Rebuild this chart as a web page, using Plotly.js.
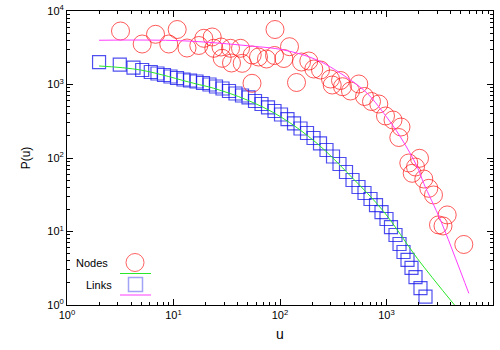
<!DOCTYPE html>
<html>
<head>
<meta charset="utf-8">
<script src="https://cdn.plot.ly/plotly-3.0.1.min.js"></script>
<style>html,body{margin:0;padding:0;background:#fff;}#chart{width:500px;height:350px;}</style>
</head>
<body>
<div id="chart"></div>
<script>
// ---- Data ----
const linksU = [2, 3.13, 4.21, 5.08, 6.12, 7.07, 8.14, 9.37, 10.79, 12.41, 14.29, 16.44, 18.92, 21.78, 25.06, 28.85, 33.2, 38.21, 43.98, 50.61, 58.26, 67.05, 77.16, 88.8, 102.2, 117.6, 135.4, 155.8, 179.3, 206.4, 237.5, 273.3, 314.6, 362, 416.7, 479.6, 545.9, 621.5, 707.6, 796.9, 897.8, 1000, 1102, 1215, 1325, 1444, 1575, 1717, 1872, 2085, 2324];
const linksP = [2020, 1859, 1693, 1575, 1480, 1411, 1347, 1285, 1226, 1169, 1134, 1098, 1048, 1000, 939, 882, 816, 754, 708, 666, 596, 543, 487, 436, 391, 339, 295, 252, 219, 187, 158, 128.5, 104.8, 82.9, 64.5, 50.2, 40.3, 33.4, 27.7, 22.9, 18.4, 14.8, 11.5, 8.96, 6.76, 5.26, 4.1, 3.19, 2.4, 1.7, 1.3];

const nodesU = [3.18, 5.08, 6.78, 9.03, 10.83, 13.39, 17.28, 19.26, 23.09, 23.9, 27.93, 28.66, 34.29, 35.04, 42.57, 44.17, 54.83, 54.59, 62.84, 74.68, 89.77, 88.8, 108.6, 122.8, 142.9, 159.2, 186.4, 207.7, 240.1, 298, 309.1, 369.9, 386.3, 459.2, 549.6, 621.5, 723.1, 846.6, 978.6, 1151, 1368, 1305, 1620, 1743, 1872, 2041, 2240, 2496, 2762, 3077, 3393, 3715, 5319];
const nodesP = [5344, 3556, 4820, 3556, 5602, 3138, 3394, 4252, 4430, 3109, 3237, 2273, 3109, 1961, 3109, 1943, 2520, 1038, 2366, 2223, 5602, 2481, 2258, 3268, 1065, 2023, 2087, 1625, 1575, 1188, 984, 1134, 933, 816, 1016, 687, 587, 543, 373, 329, 264, 190, 85.5, 61.9, 75.4, 99.1, 51.8, 38.7, 31.4, 12.3, 11.9, 16.8, 6.66];

const fitLinksU = [2, 4.9, 15.5, 23.9, 49.2, 101, 223, 459, 944, 1942, 4350];
const fitLinksP = [1786, 1575, 1038, 888, 615, 365, 158, 57, 18.6, 4.32, 1.0];

const fitNodesU = [2, 11.6, 52.9, 108.6, 223, 459, 659, 944, 1353, 1942, 2240, 3214, 4446, 5930];
const fitNodesP = [4000, 3945, 3340, 2946, 2154, 1151, 759, 405, 193, 76, 45, 14.3, 4.32, 1.44];

const majorTicks = [1, 10, 100, 1000, 10000];
const majorLabels = ['10<sup>0</sup>', '10<sup>1</sup>', '10<sup>2</sup>', '10<sup>3</sup>', '10<sup>4</sup>'];
const minorTicks = [2,3,4,5,6,7,8,9,20,30,40,50,60,70,80,90,200,300,400,500,600,700,800,900,2000,3000,4000,5000,6000,7000,8000,9000];

const legendLabels = ['Nodes', 'Links'];

// ---- Styles ----
const FONT = 'Liberation Sans, Arial, Helvetica, sans-serif';
const RED = 'rgba(255,20,20,0.7)';
const BLUE = 'rgba(20,20,235,0.75)';
const GREEN = 'rgb(40,230,40)';
const MAGENTA = 'rgb(255,60,255)';

const traces = [
  {x: linksU, y: linksP, mode: 'markers', type: 'scatter', name: legendLabels[1],
   marker: {symbol: 'square-open', size: 13, color: BLUE, line: {width: 1.2, color: BLUE}}},
  {x: nodesU, y: nodesP, mode: 'markers', type: 'scatter', name: legendLabels[0],
   marker: {symbol: 'circle-open', size: 18, color: RED, line: {width: 1, color: RED}}},
  {x: fitLinksU, y: fitLinksP, mode: 'lines', type: 'scatter',
   line: {color: GREEN, width: 1, shape: 'spline'}},
  {x: fitNodesU, y: fitNodesP, mode: 'lines', type: 'scatter',
   line: {color: MAGENTA, width: 1, shape: 'spline'}}
];

function axis(title, standoff) {
  return {
    type: 'log', range: [0, 4],
    tickmode: 'array', tickvals: majorTicks, ticktext: majorLabels,
    ticks: 'inside', ticklen: 6, tickcolor: '#000', tickwidth: 1,
    minor: {tickmode: 'array', tickvals: minorTicks, ticks: 'inside', ticklen: 3, tickcolor: '#000', showgrid: false},
    showline: true, linecolor: '#000', linewidth: 1, mirror: 'allticks',
    showgrid: false, zeroline: false,
    tickfont: {family: FONT, size: 11, color: '#000'},
    title: {text: title, font: {family: FONT, size: 13, color: '#000'}, standoff: standoff}
  };
}

// legend drawn manually (paper coordinates of the plot area: 426 x 294 px)
const W = 426, H = 294;
function px(x) { return (x - 67) / W; }
function py(y) { return (305 - y) / H; }

const shapes = [
  {type: 'circle', xref: 'paper', yref: 'paper', xsizemode: 'pixel', ysizemode: 'pixel',
   xanchor: px(135), yanchor: py(262.5), x0: -9, x1: 9, y0: -9, y1: 9,
   line: {color: 'rgba(255,60,60,0.8)', width: 1}},
  {type: 'line', xref: 'paper', yref: 'paper', x0: px(120), x1: px(151), y0: py(273.5), y1: py(273.5),
   line: {color: GREEN, width: 1}},
  {type: 'rect', xref: 'paper', yref: 'paper', xsizemode: 'pixel', ysizemode: 'pixel',
   xanchor: px(135.5), yanchor: py(284.5), x0: -7, x1: 7, y0: -7, y1: 7,
   line: {color: 'rgba(100,100,240,0.6)', width: 1.5}},
  {type: 'line', xref: 'paper', yref: 'paper', x0: px(120), x1: px(151), y0: py(295), y1: py(295),
   line: {color: MAGENTA, width: 1}}
];

const annotations = [
  {xref: 'paper', yref: 'paper', x: px(110), y: py(262.5), text: legendLabels[0], showarrow: false,
   xanchor: 'right', yanchor: 'middle', font: {family: FONT, size: 11, color: '#000'}},
  {xref: 'paper', yref: 'paper', x: px(113.5), y: py(284.5), text: legendLabels[1], showarrow: false,
   xanchor: 'right', yanchor: 'middle', font: {family: FONT, size: 11, color: '#000'}}
];

const xa = axis('u', 8);
xa.title.font.size = 14;
const ya = axis('P(u)', 14);
ya.title.font.size = 12;

const layout = {
  width: 500, height: 350,
  margin: {l: 67, r: 7, t: 11, b: 45},
  paper_bgcolor: '#fff', plot_bgcolor: '#fff',
  showlegend: false,
  xaxis: xa, yaxis: ya,
  shapes: shapes, annotations: annotations
};

Plotly.newPlot('chart', traces, layout, {staticPlot: true, displayModeBar: false});
</script>
</body>
</html>
